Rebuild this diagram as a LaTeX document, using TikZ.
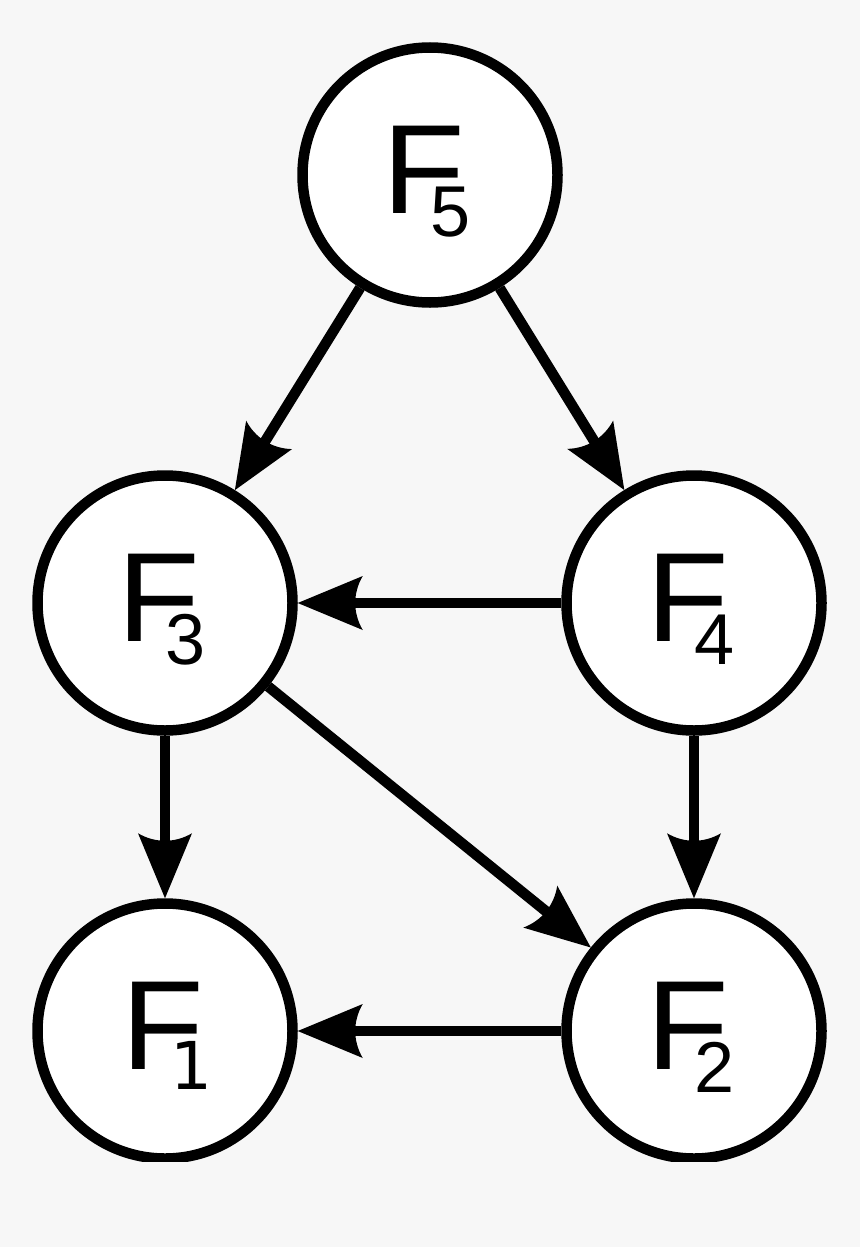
\documentclass[tikz,border=0pt]{standalone}
\usepackage{fontspec}
\setmainfont{Liberation Sans}
\newfontfamily\onefont{DejaVu Sans}
\usetikzlibrary{arrows.meta}
\definecolor{bg}{HTML}{F7F7F7}
\pgfdeclarearrow{
  name = CStealth,
  setup code = {
    \pgfarrowssettipend{0pt}
    \pgfarrowssetbackend{-65pt}
    \pgfarrowssetlineend{-50pt}
    \pgfarrowshullpoint{0pt}{0pt}
    \pgfarrowshullpoint{-65pt}{27pt}
    \pgfarrowshullpoint{-65pt}{-27pt}
  },
  drawing code = {
    \pgfpathmoveto{\pgfpoint{0pt}{0pt}}
    \pgfpathlineto{\pgfpoint{-65pt}{27pt}}
    \pgfpathcurveto{\pgfpoint{-55pt}{10pt}}{\pgfpoint{-55pt}{-10pt}}{\pgfpoint{-65pt}{-27pt}}
    \pgfpathclose
    \pgfusepathqfill
  }
}
\newcommand{\bigF}{\scalebox{1.065}[1]{\fontsize{127}{127}\selectfont F}}
\newcommand{\flab}[1]{\bigF\kern-34pt\raisebox{-23pt}{\fontsize{72}{72}\selectfont #1}}
\newcommand{\flabone}{\bigF\kern-33pt\raisebox{-20pt}{\onefont\fontsize{66}{66}\selectfont 1}}
\begin{document}
\begin{tikzpicture}[x=1pt,y=-1pt,
 nd/.style={circle,draw=black,fill=white,line width=10.5pt,minimum size=255pt,inner sep=0pt},
 lab/.style={anchor=base west,inner sep=0pt,xshift=-48pt,yshift=-38pt},
 arr/.style={line width=10.5pt,-CStealth}]
\fill[bg] (0,0) rectangle (860,1247);
\useasboundingbox (0,0) rectangle (860,1247);
\begin{scope}
\clip (0,0) rectangle (860,1161);
\node[nd] (f5) at (430,175) {};
\node[nd] (f3) at (165,603) {};
\node[nd] (f4) at (694,603) {};
\node[nd] (f1) at (165,1031) {};
\node[nd] (f2) at (694,1031) {};
\node[lab] (t5) at (f5) {\flab{5}};
\node[lab] (t3) at (f3) {\flab{3}};
\node[lab] (t4) at (f4) {\flab{4}};
\node[lab,xshift=4pt] (t1) at (f1) {\flabone};
\node[lab] (t2) at (f2) {\flab{2}};
\draw[arr] (f5) -- (f3);
\draw[arr] (f5) -- (f4);
\draw[arr] (f4) -- (f3);
\draw[arr] (f3) -- (f1);
\draw[arr] (f4) -- (f2);
\draw[arr] (f3) -- (f2);
\draw[arr] (f2) -- (f1);
\end{scope}
\end{tikzpicture}
\end{document}
